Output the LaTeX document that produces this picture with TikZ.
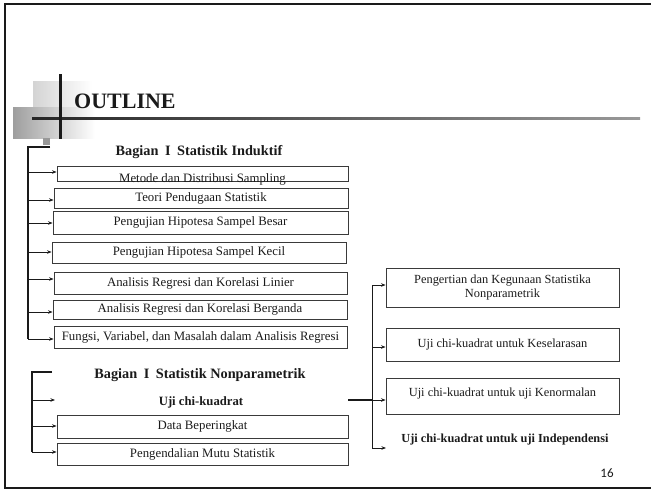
\documentclass[tikz,border=0pt]{standalone}
\usepackage{fontspec}
\setmainfont{Liberation Serif}
\newfontfamily\numfont{Carlito}
\usetikzlibrary{arrows.meta,calc}
\definecolor{ink}{HTML}{1A1A1A}
\definecolor{edge}{HTML}{3A3A3A}
\newcommand{\gp}{\hspace{6.5pt}}
\tikzset{
  bx/.style={draw=edge,line width=0.9pt,inner sep=0pt,font=\fontsize{12.8}{14.5}\selectfont,text=ink,align=center},
  rbx/.style={bx,font=\fontsize{12.4}{14.2}\selectfont},
  txt/.style={inner sep=0pt,font=\fontsize{12.8}{14.5}\selectfont,text=ink,align=center},
  hd/.style={inner sep=0pt,font=\fontsize{14.3}{16}\selectfont\bfseries,text=ink},
  spine/.style={draw=ink,line width=2pt},
  arr/.style={draw=ink,line width=0.9pt,-{Stealth[length=4.5pt,width=3.5pt]}},
  frame/.style={draw=ink,line width=2.2pt}
}
\begin{document}
\begin{tikzpicture}[x=1pt,y=-1pt]
\useasboundingbox (0,0) rectangle (651,490);
% slide frame
\draw[frame] (651,4) -- (5,4) -- (5,488) -- (651,488);
% title decoration
\shade[left color=black!17,right color=white] (33,81) rectangle (92,107);
\shade[left color=black!38,right color=white] (13,107) rectangle (95,138);
\fill[black!40] (43,138) rectangle (50,145);
\shade[left color=black!85,right color=black!40] (32,117) rectangle (640,119.2);
\fill[ink] (58.5,74) rectangle (61.5,139);
\node[inner sep=0pt,anchor=west,font=\fontsize{22}{24}\selectfont\bfseries,text=ink] (title) at (74,101) {OUTLINE};
% page number
\node[inner sep=0pt,font=\numfont\fontsize{13}{14}\selectfont,text=ink] (pg) at (607,473) {16};

% ---- Bagian I Statistik Induktif
\node[hd] (h1) at (199,152) {Bagian\gp I\gp Statistik Induktif};
\node[bx,minimum width=291pt,minimum height=15pt] (b1) at (202.5,173.5) {};
\node[txt,anchor=base] (t1) at (202.5,182) {Metode dan Distribusi Sampling};
\node[bx,minimum width=294pt,minimum height=20pt] (b2) at (201,198) {Teori Pendugaan Statistik};
\node[bx,minimum width=295pt,minimum height=23pt] (b3) at (200.5,222.5) {Pengujian Hipotesa Sampel Besar};
\node[bx,minimum width=294pt,minimum height=21pt] (b4) at (199,252.5) {Pengujian Hipotesa Sampel Kecil};
\node[bx,minimum width=293pt,minimum height=22pt] (b5) at (200.5,283) {Analisis Regresi dan Korelasi Linier};
\node[bx,minimum width=294pt,minimum height=19pt] (b6) at (200,309.5) {Analisis Regresi dan Korelasi Berganda};
\node[bx,minimum width=293pt,minimum height=22pt] (b7) at (200.5,337) {Fungsi, Variabel, dan Masalah dalam Analisis Regresi};

\coordinate (p0) at (50,147);
\coordinate (s0) at (28,147);
\coordinate (s1) at (28,172);
\coordinate (s2) at (28,200);
\coordinate (s3) at (28,223);
\coordinate (s4) at (28,252);
\coordinate (s5) at (28,279);
\coordinate (s6) at (28,312);
\coordinate (s7) at (28,339);
\draw[spine] (p0) -- (s0) -- (s7);
\foreach \i in {1,...,7} {\draw[arr] (s\i) -- (s\i -| b\i.west);}

% ---- Bagian I Statistik Nonparametrik
\node[hd] (h2) at (200,375) {Bagian\gp I\gp Statistik Nonparametrik};
\node[hd,font=\fontsize{12.7}{14}\selectfont\bfseries] (u) at (201,402) {Uji chi-kuadrat};
\node[bx,minimum width=291pt,minimum height=23pt] (b8) at (202.5,426.5) {Data Beperingkat};
\node[bx,minimum width=291pt,minimum height=22pt] (b9) at (202.5,454) {Pengendalian Mutu Statistik};
\coordinate (q0) at (52,372);
\coordinate (r0) at (32,372);
\coordinate (r1) at (32,400);
\coordinate (r2) at (32,426);
\coordinate (r3) at (32,452);
\coordinate (ue) at (55,400);
\draw[spine] (q0) -- (r0) -- (r3);
\draw[arr] (r1) -- (ue);
\draw[arr] (r2) -- (r2 -| b8.west);
\draw[arr] (r3) -- (r3 -| b9.west);

% ---- right branch
\node[rbx,minimum width=233pt,minimum height=39pt] (c1) at (502.5,287.5) {Pengertian dan Kegunaan Statistika\\Nonparametrik};
\node[rbx,minimum width=233pt,minimum height=33pt] (c2) at (502.5,344.5) {Uji chi-kuadrat untuk Keselarasan};
\node[rbx,minimum width=233pt,minimum height=36pt] (c3) at (502.5,396) {};
\node[txt,font=\fontsize{12.4}{14.2}\selectfont] (t3) at (502.5,393.5) {Uji chi-kuadrat untuk uji Kenormalan};
\node[hd,font=\fontsize{12.3}{14}\selectfont\bfseries] (c4) at (505,440) {Uji chi-kuadrat untuk uji Independensi};
\coordinate (k0) at (348,400);
\coordinate (k) at (372,400);
\coordinate (k1) at (372,285);
\coordinate (k2) at (372,347);
\coordinate (k4) at (372,448);
\coordinate (e4) at (386,448);
\draw[draw=ink,line width=2pt] (k0) -- (k);
\draw[draw=ink,line width=0.9pt] (k1) -- (k4);
\draw[arr] (k1) -- (k1 -| c1.west);
\draw[arr] (k2) -- (k2 -| c2.west);
\draw[arr] (k) -- (k -| c3.west);
\draw[arr] (k4) -- (e4);
\end{tikzpicture}
\end{document}
